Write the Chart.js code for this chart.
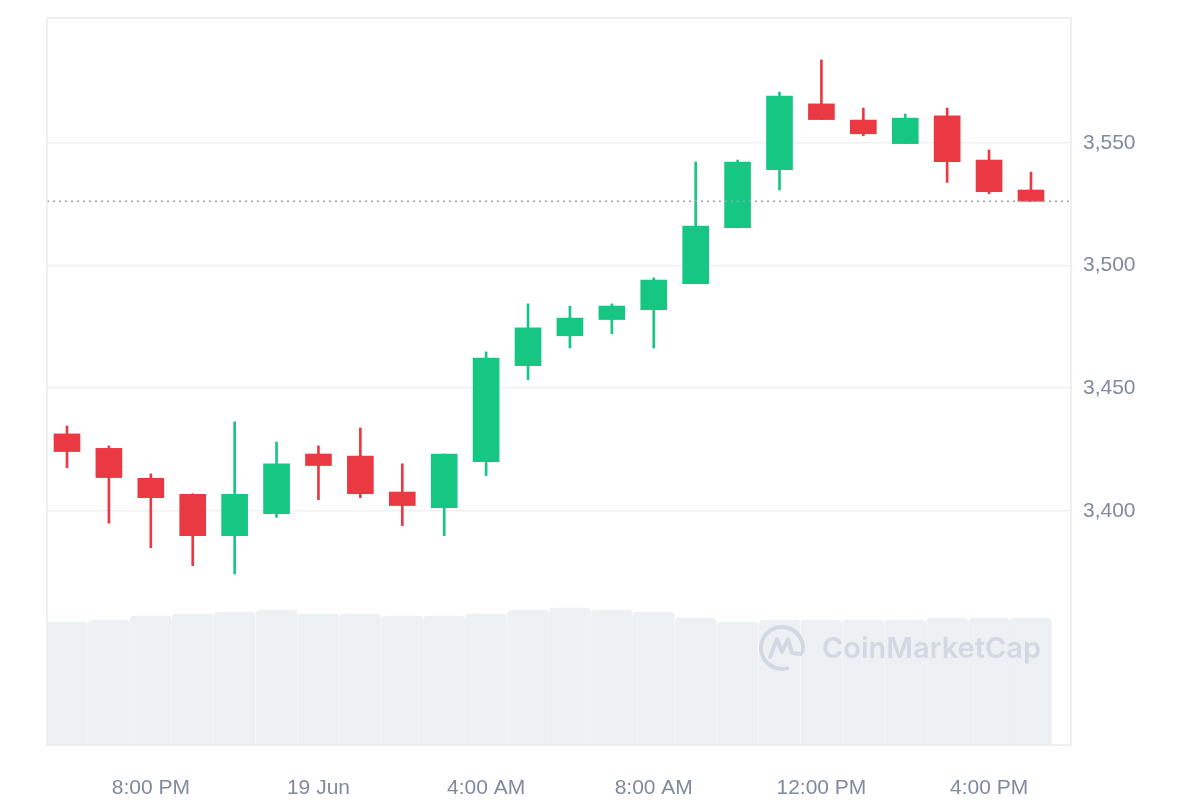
<!DOCTYPE html>
<html>
<head>
<meta charset="utf-8">
<script src="https://cdn.jsdelivr.net/npm/chart.js@4.4.1/dist/chart.umd.min.js"></script>
<style>
    html, body { margin: 0; padding: 0; background: #ffffff; }
    #wrap { width: 1200px; height: 800px; }
</style>
</head>
<body>
<div id="wrap"><canvas id="grafico"></canvas></div>
<script>
// ETH/USD hourly candles, 18 Jun 6:00 PM -> 19 Jun 5:00 PM
const horas = ['6:00 PM', '7:00 PM', '8:00 PM', '9:00 PM', '10:00 PM', '11:00 PM',
    '12:00 AM', '1:00 AM', '2:00 AM', '3:00 AM', '4:00 AM', '5:00 AM',
    '6:00 AM', '7:00 AM', '8:00 AM', '9:00 AM', '10:00 AM', '11:00 AM',
    '12:00 PM', '1:00 PM', '2:00 PM', '3:00 PM', '4:00 PM', '5:00 PM'];

const abertura = [3431.4, 3425.5, 3413.3, 3406.8, 3389.9, 3398.9, 3423.2, 3422.4, 3407.7, 3401.3, 3420.1, 3459.2,
    3471.4, 3478.0, 3482.0, 3492.6, 3515.4, 3539.1, 3565.9, 3559.3, 3549.7, 3561.0, 3543.0, 3530.8];
const maxima = [3434.6, 3426.5, 3415.1, 3407.0, 3436.3, 3428.1, 3426.5, 3433.8, 3419.2, 3423.2, 3464.8, 3484.4,
    3483.5, 3484.4, 3495.0, 3542.2, 3543.0, 3570.7, 3583.8, 3564.2, 3561.8, 3564.2, 3547.1, 3538.1];
const minima = [3417.6, 3395.0, 3385.0, 3377.7, 3374.3, 3397.4, 3404.6, 3405.4, 3394.0, 3389.9, 3414.4, 3453.5,
    3466.4, 3472.2, 3466.4, 3492.6, 3515.4, 3530.8, 3559.5, 3552.9, 3549.7, 3533.9, 3529.3, 3526.0];
const fechamento = [3424.2, 3413.6, 3405.4, 3389.9, 3406.8, 3419.2, 3418.5, 3407.0, 3402.2, 3423.2, 3462.3, 3474.6,
    3478.6, 3483.5, 3494.1, 3516.1, 3542.2, 3569.1, 3559.5, 3553.7, 3560.1, 3542.3, 3530.1, 3526.2];
// volume (relative units)
const volume = [123, 125, 129, 131, 133, 135, 131, 131, 129, 129, 131, 135,
    137, 135, 133, 127, 123, 125, 125, 125, 125, 127, 127, 127];

const ticksPreco = [3400, 3450, 3500, 3550];
const ticksHoraIdx = [2, 6, 10, 14, 18, 22];
const ticksHoraTxt = ['8:00 PM', '19 Jun', '4:00 AM', '8:00 AM', '12:00 PM', '4:00 PM'];

const VERDE = '#16c784';
const VERMELHO = '#ea3943';

const cores = abertura.map((o, i) => fechamento[i] >= o ? VERDE : VERMELHO);
const ultimoPreco = fechamento[fechamento.length - 1];

const xMin = -0.477;
const xMax = 23.955;

// moldura + marca d'agua
const pluginMoldura = {
    id: 'moldura',
    afterDatasetsDraw(chart) {
        const ctx = chart.ctx;
        const a = chart.chartArea;
        ctx.save();
        // watermark
        const cx = a.left + 735, cy = a.top + 630;
        ctx.strokeStyle = '#d3d9e3';
        ctx.lineWidth = 4;
        ctx.lineCap = 'round';
        ctx.lineJoin = 'round';
        ctx.beginPath();
        ctx.arc(cx, cy, 21, Math.PI * 0.42, Math.PI * 0.05, false);
        ctx.stroke();
        ctx.beginPath();
        ctx.moveTo(cx - 12, cy + 9);
        ctx.lineTo(cx - 5, cy - 9);
        ctx.lineTo(cx, cy + 4);
        ctx.lineTo(cx + 6, cy - 9);
        ctx.lineTo(cx + 10, cy + 5);
        ctx.lineTo(cx + 19, cy + 6);
        ctx.stroke();
        ctx.fillStyle = '#d3d9e3';
        ctx.font = '600 29px Inter, "Noto Sans", sans-serif';
        ctx.textBaseline = 'middle';
        ctx.textAlign = 'left';
        ctx.fillText('CoinMarketCap', a.left + 775, cy + 1);
        // box
        ctx.strokeStyle = '#e8eaed';
        ctx.lineWidth = 1.5;
        ctx.strokeRect(a.left, a.top, a.right - a.left, a.bottom - a.top);
        ctx.restore();
    }
};

const dados = {
    datasets: [
        {
            type: 'line',
            label: 'Preço atual',
            data: [{ x: xMin, y: ultimoPreco }, { x: xMax, y: ultimoPreco }],
            borderColor: '#9aa2ae',
            borderWidth: 1.5,
            borderDash: [2, 4],
            pointRadius: 0,
            yAxisID: 'y',
            order: 0
        },
        {
            type: 'bar',
            label: 'Corpo',
            data: abertura.map((o, i) => ({ x: i, y: [o, fechamento[i]] })),
            backgroundColor: cores,
            barThickness: 26,
            grouped: false,
            yAxisID: 'y',
            order: 1
        },
        {
            type: 'bar',
            label: 'Pavio',
            data: minima.map((l, i) => ({ x: i, y: [l, maxima[i]] })),
            backgroundColor: cores,
            barThickness: 2,
            grouped: false,
            yAxisID: 'y',
            order: 2
        },
        {
            type: 'bar',
            label: 'Volume',
            data: volume.map((v, i) => ({ x: i, y: v })),
            backgroundColor: '#eef1f4',
            barThickness: 41,
            borderRadius: { topLeft: 4, topRight: 4, bottomLeft: 0, bottomRight: 0 },
            borderSkipped: 'bottom',
            grouped: false,
            yAxisID: 'yVol',
            order: 3
        }
    ]
};

const config = {
    type: 'bar',
    data: dados,
    options: {
        responsive: false,
        animation: false,
        layout: { padding: { left: 47, top: 18, right: 0, bottom: 0 } },
        plugins: {
            legend: { display: false },
            tooltip: { enabled: false }
        },
        scales: {
            x: {
                type: 'linear',
                min: xMin,
                max: xMax,
                offset: false,
                grid: { display: false, drawTicks: false, offset: false },
                border: { display: false },
                afterBuildTicks: (axis) => { axis.ticks = ticksHoraIdx.map(v => ({ value: v })); },
                afterFit: (axis) => { axis.height = 55; axis.paddingLeft = 0; axis.paddingRight = 0; },
                ticks: {
                    padding: 31,
                    maxRotation: 0,
                    autoSkip: false,
                    color: '#808a9d',
                    font: { family: '"Liberation Sans", Arial, sans-serif', size: 21 },
                    callback: (v) => ticksHoraTxt[ticksHoraIdx.indexOf(v)] || ''
                }
            },
            y: {
                position: 'right',
                min: 3304.6,
                max: 3600.9,
                grid: { color: '#eff2f5', lineWidth: 1.5, drawTicks: false },
                border: { display: false },
                afterBuildTicks: (axis) => { axis.ticks = ticksPreco.map(v => ({ value: v })); },
                afterFit: (axis) => { axis.width = 129; axis.paddingTop = 0; axis.paddingBottom = 0; },
                ticks: {
                    padding: 12,
                    color: '#808a9d',
                    font: { family: '"Liberation Sans", Arial, sans-serif', size: 21 },
                    callback: (v) => v.toLocaleString('en-US')
                }
            },
            yVol: {
                display: false,
                min: 0,
                max: 727
            }
        }
    },
    plugins: [pluginMoldura]
};

const canvas = document.getElementById('grafico');
canvas.width = 1200;
canvas.height = 800;
new Chart(canvas, config);
</script>
</body>
</html>
